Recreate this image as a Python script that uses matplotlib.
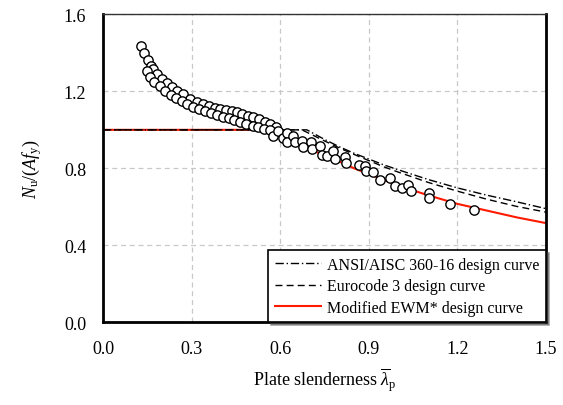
import matplotlib
matplotlib.use("Agg")
import matplotlib.pyplot as plt

plt.rcParams['font.family'] = ['Liberation Serif', 'DejaVu Serif']
plt.rcParams['mathtext.fontset'] = 'custom'
plt.rcParams['mathtext.rm'] = 'Liberation Serif'
plt.rcParams['mathtext.it'] = 'Liberation Serif:italic'

# Test data (two bands at low slenderness, then single cloud)
test_x = [0.129, 0.140, 0.153, 0.163, 0.170, 0.182, 0.199, 0.216, 0.233, 0.252, 0.272, 0.295, 0.317, 0.34,
          0.36, 0.38, 0.396, 0.415, 0.435, 0.453, 0.472, 0.49, 0.509, 0.528, 0.547, 0.566, 0.585,
          0.148, 0.159, 0.174, 0.193, 0.210, 0.229, 0.247, 0.266, 0.285, 0.305, 0.325, 0.345, 0.365,
          0.385, 0.405, 0.425, 0.445, 0.465, 0.485, 0.507, 0.526, 0.545, 0.566,
          0.577, 0.594, 0.608, 0.622, 0.622, 0.644, 0.650, 0.673, 0.678, 0.704, 0.707, 0.735, 0.741,
          0.757, 0.780, 0.786, 0.82, 0.823, 0.865, 0.887, 0.891, 0.915, 0.938, 0.972, 0.989, 1.011,
          1.034, 1.042, 1.105, 1.105, 1.175, 1.256]
test_y = [1.438, 1.40, 1.365, 1.334, 1.314, 1.29, 1.264, 1.243, 1.221, 1.203, 1.186, 1.16, 1.147, 1.134,
          1.125, 1.116, 1.108, 1.102, 1.097, 1.091, 1.083, 1.074, 1.065, 1.054, 1.042, 1.03, 1.015,
          1.304, 1.276, 1.25, 1.226, 1.202, 1.183, 1.165, 1.151, 1.133, 1.121, 1.11, 1.098, 1.088,
          1.077, 1.068, 1.06, 1.05, 1.04, 1.031, 1.021, 1.013, 1.005, 1.0,
          0.97, 0.995, 0.96, 0.983, 0.935, 0.97, 0.935, 0.943, 0.909, 0.938, 0.90, 0.918, 0.869,
          0.865, 0.891, 0.848, 0.857, 0.827, 0.817, 0.814, 0.788, 0.782, 0.74, 0.748, 0.709, 0.70,
          0.713, 0.68, 0.671, 0.645, 0.617, 0.584]

# Design curves
aisc_x = [0.0, 0.69, 0.75, 0.80, 0.85, 0.90, 0.95, 1.00, 1.10, 1.20, 1.30, 1.40, 1.50]
aisc_y = [1.0, 1.0, 0.95, 0.912, 0.878, 0.848, 0.818, 0.792, 0.742, 0.698, 0.66, 0.626, 0.59]
ec3_x = [0.0, 0.673, 0.70, 0.75, 0.80, 0.85, 0.90, 0.95, 1.00, 1.10, 1.20, 1.30, 1.40, 1.50]
ec3_y = [1.0, 1.0, 0.98, 0.942, 0.906, 0.872, 0.84, 0.808, 0.78, 0.727, 0.681, 0.639, 0.602, 0.572]
ewm_x = [0.0, 0.56, 0.60, 0.65, 0.70, 0.75, 0.80, 0.85, 0.90, 1.00, 1.10, 1.20, 1.30, 1.40, 1.50]
ewm_y = [1.0, 1.0, 0.978, 0.94, 0.90, 0.867, 0.835, 0.80, 0.77, 0.71, 0.66, 0.615, 0.58, 0.545, 0.515]

fig = plt.figure(figsize=(5.63, 4.06), dpi=100)
ax = fig.add_axes([0.183, 0.204, 0.787, 0.758])

ax.grid(True, color='#c8c8c8', linestyle=(0, (4, 3)), linewidth=0.9)
ax.set_axisbelow(True)

ax.plot(ewm_x, ewm_y, color='#ff1a00', linestyle='-', linewidth=1.5,
        label='Modified EWM* design curve', zorder=2.5)
ax.plot(aisc_x, aisc_y, color='black', linestyle=(0, (6, 2, 1, 2)), linewidth=1.0,
        label='ANSI/AISC 360-16 design curve', zorder=3)
ax.plot(ec3_x, ec3_y, color='black', linestyle=(0, (5, 3)), linewidth=1.0,
        label='Eurocode 3 design curve', zorder=3)
ax.scatter(test_x, test_y, s=45, facecolors='white', edgecolors='black', linewidths=1.0, zorder=5)

ax.set_xlim(0, 1.5)
ax.set_ylim(0, 1.6)
ax.set_xticks([0.0, 0.3, 0.6, 0.9, 1.2, 1.5])
ax.set_yticks([0.0, 0.4, 0.8, 1.2, 1.6])
ax.set_xticklabels(['0.0', '0.3', '0.6', '0.9', '1.2', '1.5'])
ax.set_yticklabels(['0.0', '0.4', '0.8', '1.2', '1.6'])
ax.tick_params(axis='x', length=0, labelsize=13, pad=13)
ax.tick_params(axis='y', length=0, labelsize=13, pad=12)

for s in ['left', 'bottom', 'right']:
    ax.spines[s].set_linewidth(2.0)
    ax.spines[s].set_color('black')
ax.spines['top'].set_linewidth(1.0)
ax.spines['top'].set_color('#333333')

ax.set_xlabel(r'Plate slenderness $\overline{\lambda}_{\mathrm{p}}$', fontsize=13, labelpad=6)
ax.set_ylabel(r'$N_{\mathrm{u}}/(Af_{\mathrm{y}})$', fontsize=13, labelpad=14)

handles, labels = ax.get_legend_handles_labels()
order = [1, 2, 0]
leg = ax.legend([handles[i] for i in order], [labels[i] for i in order],
                loc='lower right', fontsize=11.5, frameon=True, fancybox=False, shadow=True,
                borderaxespad=0.0, handlelength=2.9, handletextpad=0.4, labelspacing=0.35,
                borderpad=0.4)
leg.get_frame().set_edgecolor('black')
leg.get_frame().set_linewidth(1.2)
leg.get_frame().set_alpha(1.0)

fig.savefig('out.png', dpi=100)
